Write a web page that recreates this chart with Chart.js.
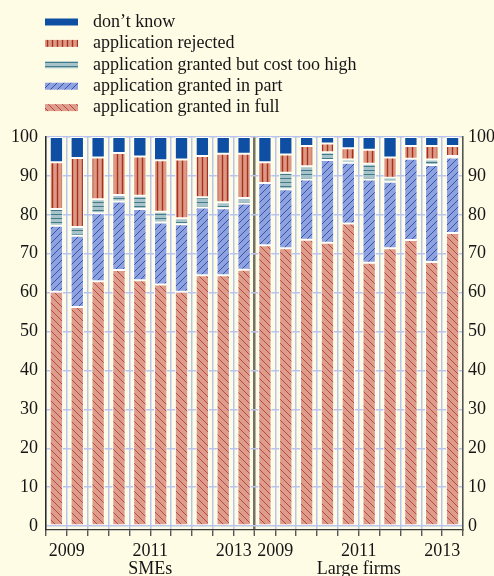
<!DOCTYPE html>
<html>
<head>
<meta charset="utf-8">
<script src="https://cdn.jsdelivr.net/npm/chart.js@4/dist/chart.umd.min.js"></script>
<style>
	html, body { margin: 0; padding: 0; background: #fffce6; }
	#wrap { width: 494px; height: 576px; position: relative; }
</style>
</head>
<body>
<div id="wrap"><canvas id="loanChart"></canvas></div>
<script>
// half-years, SMEs then large firms
const periods = [
	"2009H1", "2009H2", "2010H1", "2010H2", "2011H1", "2011H2", "2012H1", "2012H2", "2013H1", "2013H2",
	"2009H1 ", "2009H2 ", "2010H1 ", "2010H2 ", "2011H1 ", "2011H2 ", "2012H1 ", "2012H2 ", "2013H1 ", "2013H2 ",
];
const grantedFull = [60.2, 56.3, 62.9, 65.8, 63.2, 62.1, 60.2, 64.5, 64.5, 65.9, 72.2, 71.4, 73.6, 72.8, 77.8, 67.7, 71.4, 73.5, 67.9, 75.3];
const grantedPart = [17.0, 18.3, 17.5, 17.6, 18.3, 15.9, 17.4, 17.4, 17.2, 17.0, 16.0, 15.2, 15.5, 21.3, 15.6, 21.4, 17.1, 20.9, 24.9, 19.4];
const costTooHigh = [4.3, 2.3, 3.6, 1.7, 3.4, 2.8, 1.5, 2.6, 1.5, 1.4, 0.0, 4.2, 3.4, 2.0, 0.8, 4.0, 1.0, 0.0, 1.4, 0.4];
const rejected = [12.0, 17.7, 10.7, 10.8, 10.1, 13.2, 15.1, 10.6, 12.5, 11.4, 5.3, 4.7, 5.2, 2.2, 2.9, 3.6, 5.2, 3.3, 3.5, 2.6];
const dontKnow = [6.5, 5.4, 5.3, 4.1, 5.0, 6.0, 5.8, 4.9, 4.3, 4.3, 6.5, 4.5, 2.3, 1.7, 2.9, 3.3, 5.3, 2.3, 2.3, 2.3];

const yearTickPos = [0.5, 4.5, 8.5, 10.5, 14.5, 18.5];
const yearTickText = ["2009", "2011", "2013", "2009", "2011", "2013"];
const groupTitle = ["", "SMEs", "", "", "Large firms", ""];
const yTicks = [0, 10, 20, 30, 40, 50, 60, 70, 80, 90, 100];

const SERIF = "'Liberation Serif', 'DejaVu Serif', serif";
const GRID_BLUE = "#b9c4ec";
const SEP_COLOR = "#747262";

function makePattern(bg, fg, kind) {
	// small tile, repeated by the canvas
	let s = kind == "vert" ? 5 : kind == "horiz" ? 4 : 7;
	let shape = document.createElement("canvas");
	shape.width = s;
	shape.height = s;
	let c = shape.getContext("2d");
	c.fillStyle = bg;
	c.fillRect(0, 0, s, s);
	c.strokeStyle = fg;
	c.lineWidth = 1;
	c.beginPath();
	if (kind == "vert") {
		c.lineWidth = 1.4;
		c.moveTo(2.5, 0);
		c.lineTo(2.5, s);
	} else if (kind == "horiz") {
		c.moveTo(0, 2.5);
		c.lineTo(s, 2.5);
	} else if (kind == "back") {
		for (let k = -1; k <= 1; k++) {
			c.moveTo(k * s, 0);
			c.lineTo(k * s + s, s);
		}
	} else {
		for (let k = -1; k <= 1; k++) {
			c.moveTo(k * s, s);
			c.lineTo(k * s + s, 0);
		}
	}
	c.stroke();
	return c.createPattern(shape, "repeat");
}

const legendBoxes = {
	id: "legendBoxes",
	afterDraw(chart) {
		const ctx = chart.ctx;
		const sets = chart.data.datasets.slice().reverse();
		ctx.save();
		sets.forEach((ds, i) => {
			let yc = 22 + i * 21.4;
			ctx.fillStyle = ds.backgroundColor;
			ctx.fillRect(45, yc - 3.5, 33, 7);
			ctx.fillStyle = "#151515";
			ctx.font = "18px " + SERIF;
			ctx.textBaseline = "middle";
			ctx.textAlign = "left";
			ctx.fillText(ds.label, 93, yc);
		});
		ctx.restore();
	},
};

const barOpts = {
	borderColor: "#ffffff",
	borderWidth: 1,
	borderSkipped: false,
	categoryPercentage: 1.0,
	barPercentage: 0.64,
	stack: "1",
};

const keepTicks = (scale) => {
	scale.ticks = yTicks.map((v) => ({ value: v }));
};

new Chart(document.getElementById("loanChart"), {
	type: "bar",
	data: {
		labels: periods,
		datasets: [
			{ label: "application granted in full", data: grantedFull, backgroundColor: makePattern("#dc9e8a", "#bf4448", "back"), ...barOpts },
			{ label: "application granted in part", data: grantedPart, backgroundColor: makePattern("#90a2dd", "#2e55b5", "fwd"), ...barOpts },
			{ label: "application granted but cost too high", data: costTooHigh, backgroundColor: makePattern("#a9c3cb", "#417c88", "horiz"), ...barOpts },
			{ label: "application rejected", data: rejected, backgroundColor: makePattern("#dc9a85", "#a8301f", "vert"), ...barOpts },
			{ label: "don\u2019t know", data: dontKnow, backgroundColor: "#0e4ea3", ...barOpts },
		],
	},
	plugins: [legendBoxes],
	options: {
		responsive: true,
		maintainAspectRatio: false,
		animation: false,
		layout: {
			padding: { top: 137, left: 10, right: 0, bottom: 0 },
		},
		plugins: {
			legend: { display: false },
			tooltip: { enabled: false },
		},
		scales: {
			x: {
				stacked: true,
				grid: {
					offset: true,
					color: (ctx) => (ctx.index === 10 ? SEP_COLOR : GRID_BLUE),
					lineWidth: (ctx) => (ctx.index === 10 ? 2.5 : 1.5),
					tickColor: "#3a3a3a",
					tickLength: 6,
					tickWidth: 1.2,
				},
				border: { display: true, color: "#3a3a3a", width: 1.2 },
				ticks: { display: false },
			},
			x2: {
				type: "linear",
				position: "bottom",
				offset: false,
				min: -0.5,
				max: 19.5,
				afterBuildTicks: (scale) => {
					scale.ticks = yearTickPos.map((v) => ({ value: v }));
				},
				afterFit: (scale) => {
					scale.height = 40;
				},
				grid: { display: false, drawTicks: false, offset: false },
				border: { display: false },
				ticks: {
					autoSkip: false,
					maxRotation: 0,
					padding: 6,
					color: "#151515",
					font: { family: SERIF, size: 18, lineHeight: 1.0 },
					callback: (v, i) => (groupTitle[i] ? [yearTickText[i], groupTitle[i]] : yearTickText[i]),
				},
			},
			y: {
				stacked: true,
				position: "left",
				min: -1,
				max: 100,
				afterBuildTicks: keepTicks,
				afterFit: (scale) => {
					scale.width = 36;
				},
				grid: { color: GRID_BLUE, lineWidth: 1.5, drawTicks: false },
				border: { display: true, color: "#2a2a2a", width: 1.5 },
				ticks: {
					padding: 8,
					color: "#151515",
					font: { family: SERIF, size: 18 },
				},
			},
			y1: {
				position: "right",
				min: -1,
				max: 100,
				afterBuildTicks: keepTicks,
				afterFit: (scale) => {
					scale.width = 31;
				},
				grid: { display: false, drawTicks: false },
				border: { display: true, color: "#55554a", width: 1.5 },
				ticks: {
					padding: 5,
					color: "#151515",
					font: { family: SERIF, size: 18 },
				},
			},
		},
	},
});
</script>
</body>
</html>
